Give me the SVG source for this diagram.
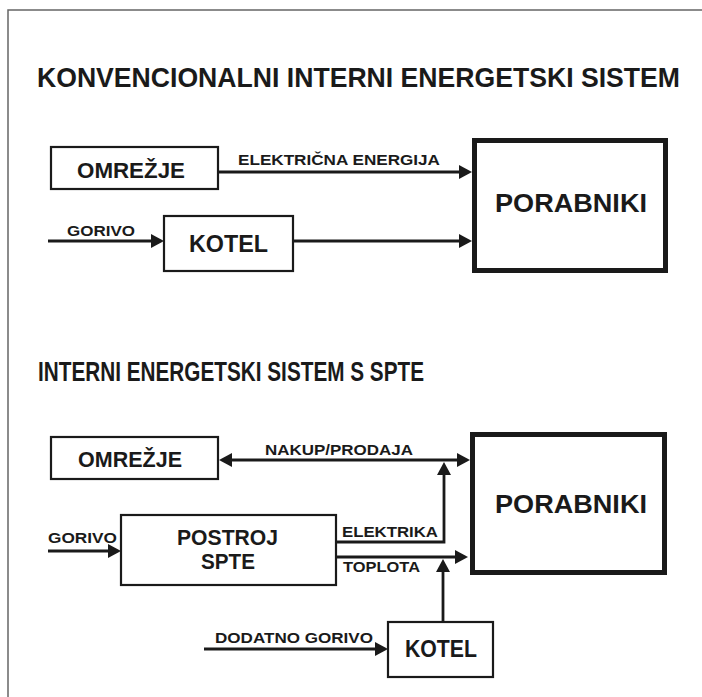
<svg xmlns="http://www.w3.org/2000/svg" width="702" height="697" viewBox="0 0 702 697">
<defs>
<style>
.t{font-family:"Liberation Sans",Arial,sans-serif;font-weight:bold;fill:#1a1a1a}
.box{fill:#fff;stroke:#1a1a1a;stroke-width:2.2}
.big{fill:#fff;stroke:#1a1a1a;stroke-width:5}
.c{stroke:#1a1a1a;stroke-width:2.8;fill:none}
.a{marker-end:url(#ah)}
</style>
<marker id="ah" markerUnits="userSpaceOnUse" markerWidth="14" markerHeight="14" refX="0" refY="7" orient="auto-start-reverse"><path d="M0,0 L13,7 L0,14 z" fill="#1a1a1a"/></marker>
</defs>
<rect width="702" height="697" fill="#fff"/>
<path d="M8,697 V10 H702" fill="none" stroke="#666" stroke-width="1.5"/>

<text class="t" transform="translate(37,87) scale(1,1.15)" font-size="24" textLength="643" lengthAdjust="spacingAndGlyphs">KONVENCIONALNI INTERNI ENERGETSKI SISTEM</text>
<text class="t" transform="translate(38,381) scale(1,1.15)" font-size="24" textLength="386" lengthAdjust="spacingAndGlyphs">INTERNI ENERGETSKI SISTEM S SPTE</text>

<g id="omrezje1"><rect class="box" x="51" y="147" width="167" height="42"/><text class="t" x="77" y="178" font-size="22" textLength="108" lengthAdjust="spacingAndGlyphs">OMREŽJE</text></g>
<g id="kotel1"><rect class="box" x="164" y="216" width="129" height="55"/><text class="t" x="189" y="252" font-size="24" textLength="79" lengthAdjust="spacingAndGlyphs">KOTEL</text></g>
<g id="porabniki1"><rect class="big" x="474.5" y="140.5" width="191" height="130"/><text class="t" x="495" y="212" font-size="25" textLength="152" lengthAdjust="spacingAndGlyphs">PORABNIKI</text></g>

<g id="omrezje2"><rect class="box" x="51" y="437" width="167" height="42"/><text class="t" x="78" y="467" font-size="22" textLength="104" lengthAdjust="spacingAndGlyphs">OMREŽJE</text></g>
<g id="postroj"><rect class="box" x="121" y="515" width="215" height="70"/><text class="t" x="177" y="545" font-size="22" textLength="101" lengthAdjust="spacingAndGlyphs">POSTROJ</text><text class="t" x="201" y="569" font-size="22" textLength="54" lengthAdjust="spacingAndGlyphs">SPTE</text></g>
<g id="porabniki2"><rect class="big" x="472.5" y="434.5" width="192" height="138"/><text class="t" x="495" y="513" font-size="25" textLength="152" lengthAdjust="spacingAndGlyphs">PORABNIKI</text></g>
<g id="kotel2"><rect class="box" x="388" y="622" width="105" height="55"/><text class="t" x="405" y="657" font-size="24" textLength="72" lengthAdjust="spacingAndGlyphs">KOTEL</text></g>

<g id="connectors">
<line class="c a" x1="218" y1="172" x2="459" y2="172"/>
<line class="c a" x1="48" y1="241" x2="151" y2="241"/>
<line class="c a" x1="293" y1="241" x2="459" y2="241"/>
<line class="c a" x1="232" y1="460" x2="457" y2="460" style="marker-start:url(#ah)"/>
<polyline class="c a" points="336,542 444,542 444,475"/>
<line class="c a" x1="336" y1="557" x2="455" y2="557"/>
<line class="c a" x1="443" y1="622" x2="443" y2="572"/>
<line class="c a" x1="48" y1="551" x2="108" y2="551"/>
<line class="c a" x1="204" y1="649" x2="375" y2="649"/>
</g>

<g id="labels">
<text class="t" x="238" y="165" font-size="14" textLength="202" lengthAdjust="spacingAndGlyphs">ELEKTRIČNA ENERGIJA</text>
<text class="t" x="67" y="236" font-size="14" textLength="68" lengthAdjust="spacingAndGlyphs">GORIVO</text>
<text class="t" x="265" y="455" font-size="14" textLength="148" lengthAdjust="spacingAndGlyphs">NAKUP/PRODAJA</text>
<text class="t" x="342" y="537" font-size="15" textLength="96" lengthAdjust="spacingAndGlyphs">ELEKTRIKA</text>
<text class="t" x="343" y="572" font-size="15" textLength="77" lengthAdjust="spacingAndGlyphs">TOPLOTA</text>
<text class="t" x="48" y="543" font-size="14" textLength="69" lengthAdjust="spacingAndGlyphs">GORIVO</text>
<text class="t" x="215" y="643" font-size="14" textLength="158" lengthAdjust="spacingAndGlyphs">DODATNO GORIVO</text>
</g>
</svg>
